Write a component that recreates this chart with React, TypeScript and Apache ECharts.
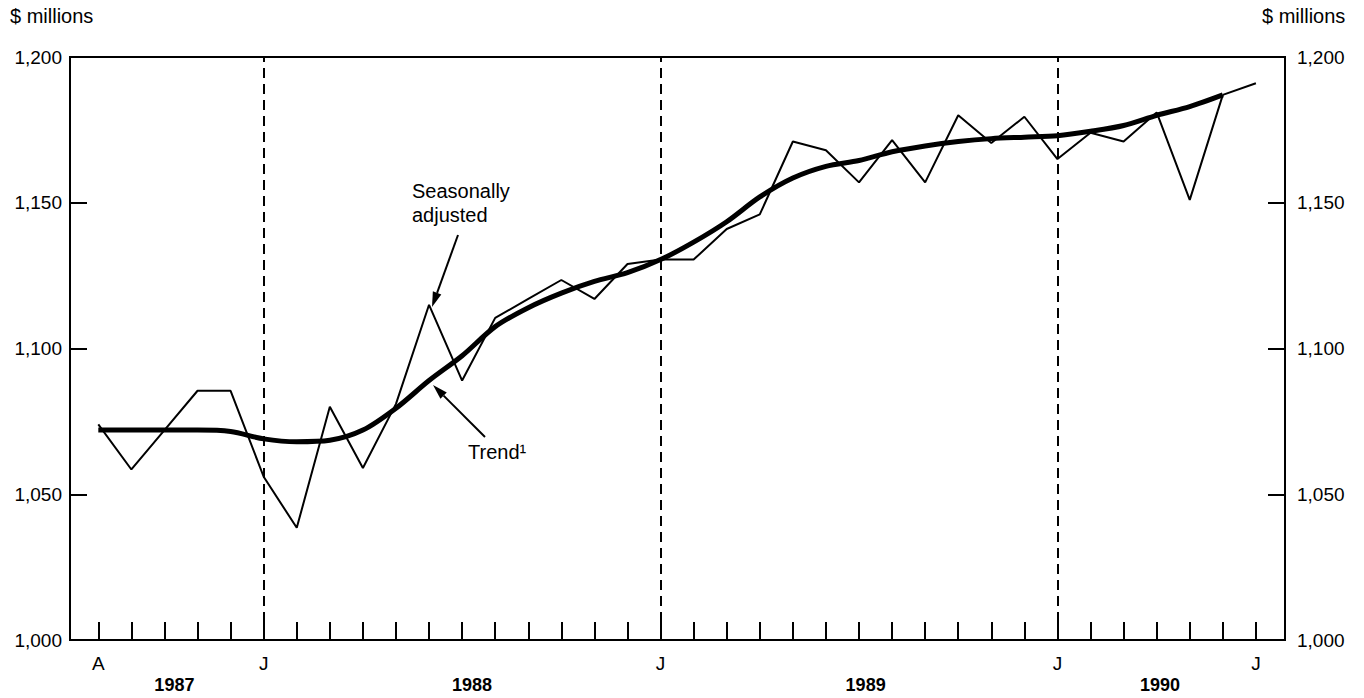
import React, { useEffect, useRef } from "react";
import * as echarts from "echarts";

// ---- Data ----
const months = [
  0, 1, 2, 3, 4, 5, 6, 7, 8, 9, 10, 11, 12, 13, 14, 15, 16, 17,
  18, 19, 20, 21, 22, 23, 24, 25, 26, 27, 28, 29, 30, 31, 32, 33, 34, 35,
];
const monthLabelPositions = [0, 5, 17, 29, 35];
const monthLabels = ["A", "J", "J", "J", "J"];
const dashedMonths = [5, 17, 29];
const yearLabelPositions = [2.3, 11.3, 23.2, 32.1];
const yearLabels = ["1987", "1988", "1989", "1990"];

const seasonallyAdjusted = [
  1074, 1058.5, 1072, 1085.5, 1085.5, 1056, 1038.5, 1080, 1059, 1081, 1115,
  1089, 1110.5, 1117, 1123.5, 1117, 1129, 1130.5, 1130.5, 1141, 1146, 1171,
  1168, 1157, 1171.5, 1157, 1180, 1170.5, 1179.5, 1165, 1174, 1171, 1181,
  1151, 1187,
];
const trend = [
  1072, 1072, 1072, 1072, 1071.5, 1069, 1068, 1068.5, 1072, 1079.5, 1089,
  1097.5, 1107.5, 1114, 1119, 1123, 1126, 1130.5, 1136.5, 1143.5, 1152,
  1158.5, 1162.5, 1164.5, 1167.5, 1169.5, 1171, 1172, 1172.5, 1173, 1174.5,
  1176.5, 1180, 1183, 1187,
];
const trendProjectionMonths = [34, 35];
const trendProjection = [1187, 1191];

const yMin = 1000;
const yMax = 1200;
const yStep = 50;

const FONT = "'Liberation Sans', Arial, Helvetica, sans-serif";

function arrow(x1: number, y1: number, x2: number, y2: number) {
  const ang = Math.atan2(y2 - y1, x2 - x1);
  const len = 15;
  const half = 4.5;
  const bx = x2 - len * Math.cos(ang);
  const by = y2 - len * Math.sin(ang);
  const px = -Math.sin(ang);
  const py = Math.cos(ang);
  return [
    {
      type: "line",
      shape: { x1, y1, x2: bx, y2: by },
      style: { stroke: "#000", lineWidth: 2 },
      silent: true,
    },
    {
      type: "polygon",
      shape: {
        points: [
          [x2, y2],
          [bx + px * half, by + py * half],
          [bx - px * half, by - py * half],
        ],
      },
      style: { fill: "#000" },
      silent: true,
    },
  ];
}

function nearestLabel(v: number, pos: number[], labels: string[]) {
  let best = 0;
  for (let i = 1; i < pos.length; i++) {
    if (Math.abs(pos[i] - v) < Math.abs(pos[best] - v)) best = i;
  }
  return labels[best];
}

export default function App() {
  const ref = useRef<HTMLDivElement>(null);

  useEffect(() => {
    if (!ref.current) return;
    const chart = echarts.init(ref.current, undefined, { renderer: "svg" });

    const saData = seasonallyAdjusted.map((v, i) => [months[i], v]);
    const trendData = trend.map((v, i) => [months[i], v]);
    const projData = trendProjection.map((v, i) => [trendProjectionMonths[i], v]);
    const tickTop = yMin + (18 / 583) * (yMax - yMin);

    const option: any = {
      animation: false,
      backgroundColor: "#fff",
      textStyle: { fontFamily: FONT, color: "#000" },
      grid: {
        left: 70,
        right: 79,
        top: 57,
        bottom: 58,
        show: true,
        borderColor: "#000",
        borderWidth: 2,
        backgroundColor: "transparent",
      },
      xAxis: [
        {
          type: "value",
          min: -0.856,
          max: 35.88,
          position: "bottom",
          axisLine: { show: true, onZero: false, lineStyle: { color: "#000", width: 2 } },
          axisTick: {
            show: true,
            inside: true,
            length: 18,
            customValues: months,
            lineStyle: { color: "#000", width: 2 },
          },
          axisLabel: {
            show: true,
            customValues: monthLabelPositions,
            formatter: (v: number) => nearestLabel(v, monthLabelPositions, monthLabels),
            margin: 14,
            fontSize: 19,
            fontFamily: FONT,
            color: "#000",
          },
          splitLine: { show: false },
        },
        {
          type: "value",
          min: -0.856,
          max: 35.88,
          position: "bottom",
          axisLine: { show: false, onZero: false },
          axisTick: { show: false },
          axisLabel: {
            show: true,
            customValues: yearLabelPositions,
            formatter: (v: number) => nearestLabel(v, yearLabelPositions, yearLabels),
            margin: 36,
            fontSize: 18,
            fontWeight: "bold",
            fontFamily: FONT,
            color: "#000",
          },
          splitLine: { show: false },
        },
      ],
      yAxis: [
        {
          type: "value",
          min: yMin,
          max: yMax,
          interval: yStep,
          position: "left",
          axisLine: { show: true, onZero: false, lineStyle: { color: "#000", width: 2 } },
          axisTick: { show: true, inside: true, length: 17, lineStyle: { color: "#000", width: 2 } },
          axisLabel: {
            formatter: (v: number) => v.toLocaleString("en-US"),
            margin: 8,
            fontSize: 19,
            fontFamily: FONT,
            color: "#000",
          },
          splitLine: { show: false },
        },
        {
          type: "value",
          min: yMin,
          max: yMax,
          interval: yStep,
          position: "right",
          axisLine: { show: true, onZero: false, lineStyle: { color: "#000", width: 2 } },
          axisTick: { show: true, inside: true, length: 17, lineStyle: { color: "#000", width: 2 } },
          axisLabel: {
            formatter: (v: number) => v.toLocaleString("en-US"),
            margin: 12,
            fontSize: 19,
            fontFamily: FONT,
            color: "#000",
          },
          splitLine: { show: false },
        },
      ],
      series: [
        {
          name: "Seasonally adjusted",
          type: "line",
          data: saData,
          showSymbol: false,
          symbol: "none",
          lineStyle: { color: "#000", width: 2 },
          z: 3,
          markLine: {
            silent: true,
            symbol: ["none", "none"],
            label: { show: false },
            lineStyle: { color: "#000", width: 2, type: [10, 6] },
            data: dashedMonths.map((m) => [
              { coord: [m, tickTop] },
              { coord: [m, yMax] },
            ]),
          },
        },
        {
          name: "Trend",
          type: "line",
          data: trendData,
          showSymbol: false,
          symbol: "none",
          smooth: 0.3,
          lineStyle: { color: "#000", width: 5 },
          z: 4,
        },
        {
          name: "Trend projection",
          type: "line",
          data: projData,
          showSymbol: false,
          symbol: "none",
          lineStyle: { color: "#000", width: 2 },
          z: 4,
        },
      ],
      graphic: [
        {
          type: "text",
          left: 10,
          top: 6,
          style: { text: "$ millions", font: `20px ${FONT}`, fill: "#000" },
        },
        {
          type: "text",
          left: 1262,
          top: 6,
          style: { text: "$ millions", font: `20px ${FONT}`, fill: "#000" },
        },
        {
          type: "text",
          x: 412,
          y: 181,
          style: { text: "Seasonally", font: `20px ${FONT}`, fill: "#000" },
        },
        {
          type: "text",
          x: 412,
          y: 205,
          style: { text: "adjusted", font: `20px ${FONT}`, fill: "#000" },
        },
        {
          type: "text",
          x: 468,
          y: 442,
          style: { text: "Trend\u00B9", font: `20px ${FONT}`, fill: "#000" },
        },
        ...arrow(458, 235, 432, 307),
        ...arrow(485, 437, 433, 385),
      ],
    };

    chart.setOption(option);
    return () => chart.dispose();
  }, []);

  return (
    <div
      ref={ref}
      style={{ position: "fixed", left: 0, top: 0, width: 1364, height: 698, background: "#fff" }}
    />
  );
}
